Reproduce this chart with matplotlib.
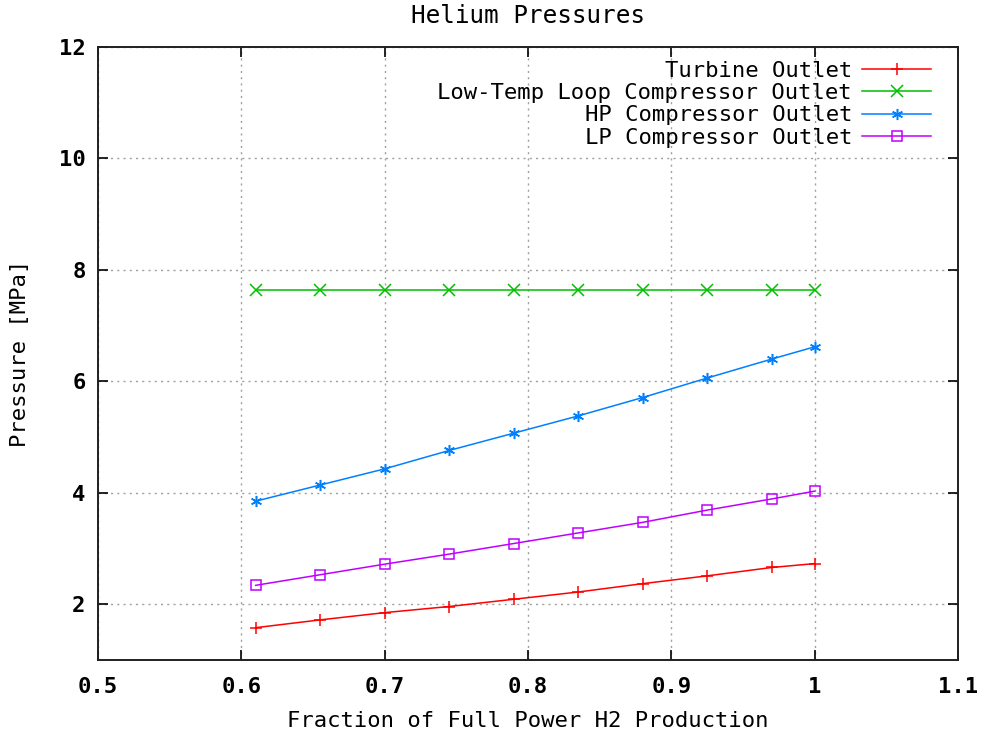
import matplotlib
matplotlib.use("Agg")
import matplotlib.pyplot as plt
from matplotlib.ticker import FuncFormatter, MultipleLocator

# fraction of full power H2 production
frac = [0.61, 0.655, 0.70, 0.745, 0.79, 0.835, 0.88, 0.925, 0.97, 1.0]

# pressures [MPa]
turbine_out = [1.58, 1.72, 1.85, 1.96, 2.09, 2.22, 2.37, 2.51, 2.66, 2.73]
lowtemp_comp_out = [7.64, 7.64, 7.64, 7.64, 7.64, 7.64, 7.64, 7.64, 7.64, 7.64]
hp_comp_out = [3.85, 4.14, 4.43, 4.76, 5.07, 5.38, 5.71, 6.06, 6.40, 6.62]
lp_comp_out = [2.34, 2.53, 2.72, 2.90, 3.09, 3.28, 3.47, 3.69, 3.89, 4.03]

series = [
    ("Turbine Outlet", turbine_out, "#ff0000", "+"),
    ("Low-Temp Loop Compressor Outlet", lowtemp_comp_out, "#00c000", "x"),
    ("HP Compressor Outlet", hp_comp_out, "#0080ff", (6, 2, 0)),
    ("LP Compressor Outlet", lp_comp_out, "#c000ff", "s"),
]

FONT = "DejaVu Sans Mono"
plt.rcParams["font.family"] = FONT

fig = plt.figure(figsize=(9.84, 7.31), dpi=100)
ax = fig.add_axes([98 / 984, 1 - 660 / 731, 860 / 984, 613 / 731])

for label, vals, color, mk in series:
    kw = dict(markerfacecolor="none") if mk == "s" else {}
    ax.plot(frac, vals, color=color, lw=1.1, marker=mk,
            markersize=9 if mk == "+" else (8 if mk != "s" else 7),
            markeredgewidth=1.1, label=label, **kw)

ax.set_xlim(0.5, 1.1)
ax.set_ylim(1, 12)
ax.xaxis.set_major_locator(MultipleLocator(0.1))
ax.set_yticks([2, 4, 6, 8, 10, 12])
ax.xaxis.set_major_formatter(FuncFormatter(lambda v, _: f"{v:g}"))
ax.yaxis.set_major_formatter(FuncFormatter(lambda v, _: f"{v:g}"))

ax.grid(True, color="#a0a0a0", linestyle=(0, (1.5, 3)), linewidth=1.0)
ax.tick_params(direction="in", length=7, width=1.2, top=True, right=True,
               labelsize=16, pad=9)
ax.tick_params(axis="x", pad=12)
for t in ax.get_xticklabels() + ax.get_yticklabels():
    t.set_fontweight("bold")
for s in ax.spines.values():
    s.set_linewidth(1.4)
    s.set_color("#202020")

ax.set_title("Helium Pressures", fontsize=17.5, pad=17)
ax.set_xlabel("Fraction of Full Power H2 Production", fontsize=16, labelpad=10)
ax.set_ylabel("Pressure [MPa]", fontsize=16, labelpad=21)

ax.legend(loc="upper right", bbox_to_anchor=(931 / 984, 1 - 61 / 731),
          bbox_transform=fig.transFigure, frameon=False, markerfirst=False,
          fontsize=16, labelspacing=0.1, handlelength=3.1, handletextpad=0.45,
          borderpad=0, borderaxespad=0)

fig.savefig("out.png", dpi=100)
